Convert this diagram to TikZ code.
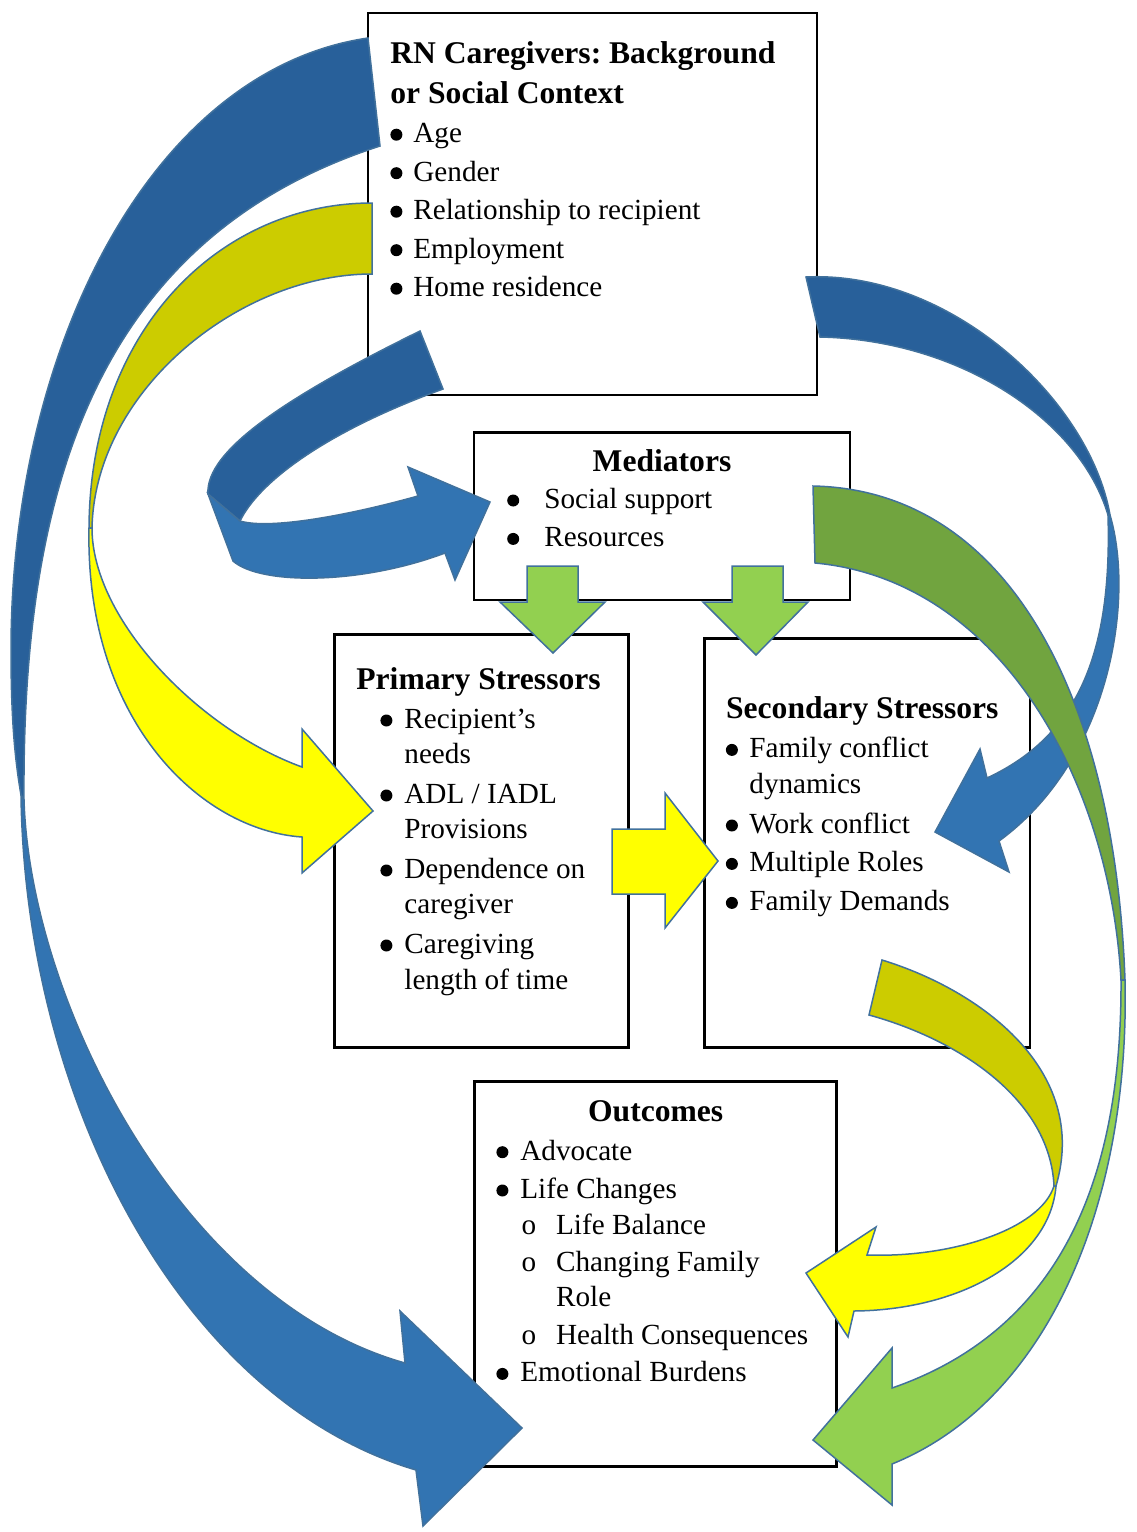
\documentclass[tikz,border=0pt]{standalone}
\usepackage{fontspec}
\setmainfont{Liberation Serif}
\frenchspacing
\definecolor{dkblue}{HTML}{28609A}
\definecolor{ltblue}{HTML}{3274B2}
\definecolor{olv}{HTML}{CCCC00}
\definecolor{ylw}{HTML}{FFFF00}
\definecolor{dkgreen}{HTML}{71A43F}
\definecolor{ltgreen}{HTML}{92D050}
\definecolor{rim}{HTML}{41719C}
\newcommand{\bul}[1]{\llap{\tikz[baseline=0pt, x=1pt, y=1pt]\fill (0,3.9) circle[radius=3];\hspace{#1}}}
\newcommand{\sbul}[1]{\llap{o\hspace{#1}}}
\begin{document}
\begin{tikzpicture}[x=0.5pt, y=-0.5pt,
  box/.style={draw, line width=1.25pt, inner sep=0pt, outer sep=0pt},
  arr/.style={draw=rim, line width=0.75pt},
  txt/.style={anchor=base west, inner sep=0pt, font=\fontsize{14.6}{17}\selectfont},
  hd/.style={anchor=base west, inner sep=0pt, font=\bfseries\fontsize{15.8}{18}\selectfont}]
  \useasboundingbox (0,0) rectangle (1136,1532);

  \node[box, minimum width=224.5pt, minimum height=191pt] (rn) at (592.5,204) {};
  \node[box, minimum width=188pt, minimum height=83.75pt] (med) at (662,516.25) {};
  \node[box, minimum width=146.9pt, minimum height=206.7pt] (prim) at (481.4,841) {};
  \node[box, minimum width=162.85pt, minimum height=204.6pt] (sec) at (867.2,842.9) {};
  \node[box, minimum width=181.2pt, minimum height=192.5pt] (out) at (655.5,1274.2) {};

  \path[fill=dkblue, arr] (368,38) .. controls (150,70) and (11,350) .. (11,650)
    .. controls (11,720) and (15,760) .. (21,795) -- (24,800) .. controls (22,500) and (90,240) .. (380,146) -- cycle;
  \path[fill=ltblue, arr] (21,795) .. controls (25,1100) and (180,1400) .. (416,1470) -- (423,1526) -- (522,1428)
    -- (400,1311) -- (405,1363) .. controls (180,1300) and (30,1000) .. (24,800) -- cycle;

  \path[fill=olv, arr] (372,203) .. controls (220,203) and (90,330) .. (89,528) -- (92,528)
    .. controls (95,390) and (240,274) .. (372,274) -- cycle;
  \path[fill=ylw, arr] (92,528) .. controls (92,620) and (200,730) .. (302,767) -- (302,729) -- (373,811)
    -- (302,873) -- (302,837) .. controls (200,830) and (85,720) .. (89,528) -- cycle;

  \path[fill=dkblue, arr] (420,331) -- (443,389) .. controls (330,430) and (260,480) .. (240,521)
    -- (208,494) .. controls (205,450) and (290,395) .. (420,331) -- cycle;
  \path[fill=ltblue, arr] (208,494) -- (233,561) .. controls (260,585) and (360,585) .. (445,553)
    -- (455,580) -- (490,502) -- (408,467) -- (418,496) .. controls (350,515) and (270,530) .. (240,521) -- cycle;

  \path[fill=dkblue, arr] (806,277) .. controls (950,270) and (1090,400) .. (1110,515) -- (1108,515)
    .. controls (1080,420) and (960,340) .. (820,337) -- cycle;
  \path[fill=ltblue, arr] (1110,515) .. controls (1135,600) and (1110,760) .. (999,841) -- (1009,872)
    -- (935,832) -- (980,749) -- (987,778) .. controls (1080,735) and (1112,650) .. (1108,515) -- cycle;

  \path[fill=dkgreen, arr] (813,486) .. controls (1010,490) and (1115,700) .. (1125,980) -- (1121,980)
    .. controls (1110,780) and (1000,580) .. (815,563) -- cycle;
  \path[fill=ltgreen, arr] (1121,980) .. controls (1122,1180) and (1060,1330) .. (892,1388) -- (892,1348)
    -- (813,1440) -- (892,1505) -- (892,1464) .. controls (1050,1400) and (1130,1200) .. (1125,980) -- cycle;

  \path[fill=olv, arr] (882,960) .. controls (980,990) and (1090,1070) .. (1056,1186) -- (1054,1186)
    .. controls (1050,1100) and (960,1040) .. (869,1015) -- cycle;
  \path[fill=ylw, arr] (1054,1186) .. controls (1040,1230) and (950,1258) .. (867,1255) -- (876,1227)
    -- (806,1273) -- (848,1337) -- (854,1311) .. controls (960,1310) and (1050,1260) .. (1056,1186) -- cycle;

  \path[fill=ylw, arr] (612,829) -- (665,829) -- (665,793) -- (718,861) -- (665,928) -- (665,894) -- (612,894) -- cycle;
  \path[fill=ltgreen, arr] (527,566) -- (578,566) -- (578,602) -- (605,602) -- (553,653) -- (500,602) -- (527,602) -- cycle;
  \path[fill=ltgreen, arr] (732,566) -- (783,566) -- (783,602) -- (808,602) -- (756,655) -- (703,602) -- (732,602) -- cycle;

  \node[hd] (rnh1) at (390,63.3) {RN Caregivers: Background};
  \node[hd] (rnh2) at (390,103.3) {or Social Context};
  \foreach \t [count=\i] in {Age, Gender, Relationship to recipient, Employment, Home residence}
    \node[txt] (rn\i) at (413,104+38.5*\i) {\bul{5.5pt}\t};

  \node[hd, anchor=base] (medh) at (662,471.7) {Mediators};
  \node[txt] (med1) at (544,508.3) {\bul{12.6pt}Social support};
  \node[txt] (med2) at (544,546.7) {\bul{12.6pt}Resources};

  \node[hd] (primh) at (356,689.3) {Primary Stressors};
  \node[txt] (prim1) at (404,728.3) {\bul{6pt}Recipient’s};
  \node[txt] (prim2) at (404,763.3) {needs};
  \node[txt] (prim3) at (404,803.3) {\bul{6pt}ADL / IADL};
  \node[txt] (prim4) at (404,838.3) {Provisions};
  \node[txt] (prim5) at (404,878.3) {\bul{6pt}Dependence on};
  \node[txt] (prim6) at (404,913.3) {caregiver};
  \node[txt] (prim7) at (404,953.3) {\bul{6pt}Caregiving};
  \node[txt] (prim8) at (404,989) {length of time};

  \node[hd] (sech) at (725.7,718.3) {Secondary Stressors};
  \node[txt] (sec1) at (749,757.7) {\bul{5.75pt}Family conflict};
  \node[txt] (sec2) at (749,793.3) {dynamics};
  \node[txt] (sec3) at (749,833.3) {\bul{5.75pt}Work conflict};
  \node[txt] (sec4) at (749,871.7) {\bul{5.75pt}Multiple Roles};
  \node[txt] (sec5) at (749,910.7) {\bul{5.75pt}Family Demands};

  \node[hd, anchor=base] (outh) at (655.7,1121.7) {Outcomes};
  \node[txt] (out1) at (520,1160) {\bul{6pt}Advocate};
  \node[txt] (out2) at (520,1198.3) {\bul{6pt}Life Changes};
  \node[txt] (out3) at (555.7,1234) {\sbul{10pt}Life Balance};
  \node[txt] (out4) at (555.7,1271.7) {\sbul{10pt}Changing Family};
  \node[txt] (out5) at (555.7,1306.7) {Role};
  \node[txt] (out6) at (555.7,1344) {\sbul{10pt}Health Consequences};
  \node[txt] (out7) at (520,1381.7) {\bul{6pt}Emotional Burdens};
\end{tikzpicture}
\end{document}
